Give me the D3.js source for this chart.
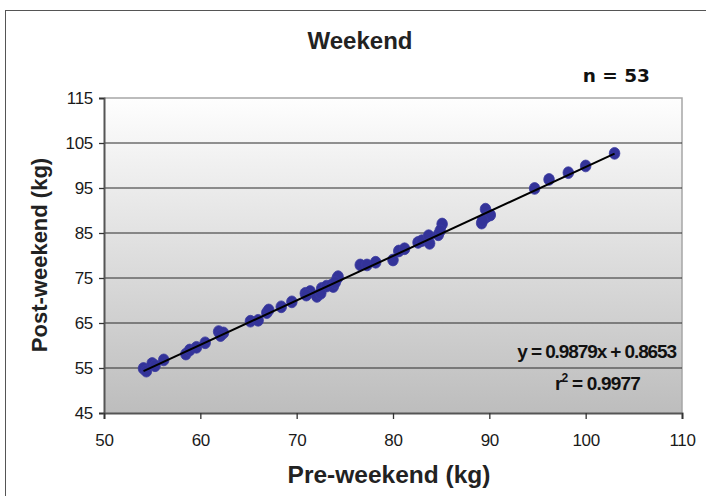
<!DOCTYPE html>
<html><head><meta charset="utf-8">
<script src="https://cdn.jsdelivr.net/npm/d3@7"></script>
<style>
body{margin:0;background:#fff;}
svg{display:block;font-family:"Liberation Sans",Arial,sans-serif;}
</style></head>
<body><svg id="c" width="706" height="496"></svg>
<script>
const title = "Weekend";
const nLabel = "n = 53";
const xLabel = "Pre-weekend (kg)";
const yLabel = "Post-weekend (kg)";
const xTicks = [50,60,70,80,90,100,110];
const yTicks = [45,55,65,75,85,95,105,115];
const preWeekend  = [54.1,54.4,55.0,55.3,56.2,58.5,58.9,59.6,60.5,61.9,62.4,62.1,65.2,66.0,66.9,67.1,68.4,69.5,70.9,71.4,72.1,72.6,73.1,73.6,73.8,74.2,74.3,76.6,77.3,78.2,80.0,80.6,81.2,82.6,83.0,83.7,83.8,84.7,85.1,89.2,89.6,89.7,90.1,94.7,96.2,98.2,100.0,103.0,71.0,72.5,74.0,89.3,84.9];
const postWeekend = [54.9,54.3,56.0,55.5,56.8,58.1,59.0,59.6,60.6,63.1,62.8,62.2,65.4,65.6,67.3,67.9,68.6,69.7,71.6,72.0,70.9,72.7,73.2,73.4,73.1,74.9,75.3,77.9,77.9,78.5,79.0,81.0,81.5,82.9,83.3,84.4,82.7,84.6,87.0,87.2,90.3,88.6,89.0,94.9,96.9,98.4,99.9,102.7,71.2,71.6,74.0,87.8,85.5];
const slope = 0.9879, intercept = 0.8653;
const eqText = "y = 0.9879x + 0.8653";
const r2Text = "= 0.9977";

const svg = d3.select("#c");
const L=104, R=682, T=98, B=413;
const x = d3.scaleLinear().domain([50,110]).range([L,R]);
const y = d3.scaleLinear().domain([45,115]).range([B,T]);

// outer frame
svg.append("rect").attr("x",5.5).attr("y",10.5).attr("width",760).attr("height",560)
  .attr("fill","none").attr("stroke","#555").attr("stroke-width",1);

// gradient
const defs = svg.append("defs");
const g = defs.append("linearGradient").attr("id","bg").attr("x1",0).attr("y1",0).attr("x2",0).attr("y2",1);
g.append("stop").attr("offset","0%").attr("stop-color","#fefefe");
g.append("stop").attr("offset","100%").attr("stop-color","#bdbdbd");
svg.append("rect").attr("x",L).attr("y",T).attr("width",R-L).attr("height",B-T).attr("fill","url(#bg)");

// top and right border
svg.append("path").attr("d",`M${L},${T}H${R}V${B}`).attr("fill","none").attr("stroke","#a6a6a6").attr("stroke-width",1.5);

// gridlines
svg.append("g").selectAll("line").data(yTicks.filter(v=>v>45&&v<115)).join("line")
  .attr("x1",L).attr("x2",R).attr("y1",d=>y(d)).attr("y2",d=>y(d))
  .attr("stroke","#2a2a2a").attr("stroke-width",1);

// axes
const yAxis = svg.append("g").attr("transform",`translate(${L},0)`)
  .call(d3.axisLeft(y).tickValues(yTicks).tickSize(5).tickPadding(6));
const xAxis = svg.append("g").attr("transform",`translate(0,${B})`)
  .call(d3.axisBottom(x).tickValues(xTicks).tickSize(6).tickPadding(15));
[yAxis,xAxis].forEach(a=>{
  a.select(".domain").attr("stroke","#555").attr("stroke-width",2);
  a.selectAll(".tick line").attr("stroke","#333").attr("stroke-width",1.3);
  a.selectAll("text").attr("font-family","'Liberation Sans',Arial,sans-serif")
    .attr("font-size",17).attr("fill","#1a1a1a").attr("letter-spacing",-0.3);
});

// points
const xs = d3.extent(preWeekend);
svg.append("g").selectAll("ellipse").data(preWeekend.map((v,i)=>[v,postWeekend[i]])).join("ellipse")
  .attr("cx",d=>x(d[0])).attr("cy",d=>y(d[1])).attr("rx",5.3).attr("ry",5.9)
  .attr("fill","#333399").attr("stroke","#3a3aa0").attr("stroke-width",0.8);
// trendline
svg.append("line").attr("x1",x(xs[0])).attr("y1",y(slope*xs[0]+intercept))
  .attr("x2",x(xs[1])).attr("y2",y(slope*xs[1]+intercept))
  .attr("stroke","#000").attr("stroke-width",2);

// title
svg.append("text").attr("x",360).attr("y",49).attr("text-anchor","middle")
  .attr("font-size",24).attr("font-weight","bold").attr("fill","#222").text(title);
svg.append("text").attr("x",650).attr("y",82).attr("text-anchor","end")
  .attr("font-family","'DejaVu Sans',sans-serif").attr("font-size",18.5).attr("font-weight","bold").attr("fill","#111").text(nLabel);

// axis titles
svg.append("text").attr("x",389).attr("y",483).attr("text-anchor","middle")
  .attr("font-size",24.5).attr("font-weight","bold").attr("fill","#222").text(xLabel);
svg.append("text").attr("transform","translate(47,255) rotate(-90)").attr("text-anchor","middle")
  .attr("font-size",22).attr("font-weight","bold").attr("fill","#222").text(yLabel);

// equation
svg.append("text").attr("x",676).attr("y",358).attr("text-anchor","end")
  .attr("font-size",19).attr("font-weight","bold").attr("letter-spacing",-1.1).attr("fill","#111").text(eqText);
const r2 = svg.append("text").attr("x",640).attr("y",390).attr("text-anchor","end")
  .attr("font-size",19).attr("font-weight","bold").attr("letter-spacing",-0.8).attr("fill","#111");
r2.append("tspan").text("r");
r2.append("tspan").attr("dy",-8).attr("font-size",12).text("2");
r2.append("tspan").attr("dy",8).text("  " + r2Text);
</script>
</body></html>
